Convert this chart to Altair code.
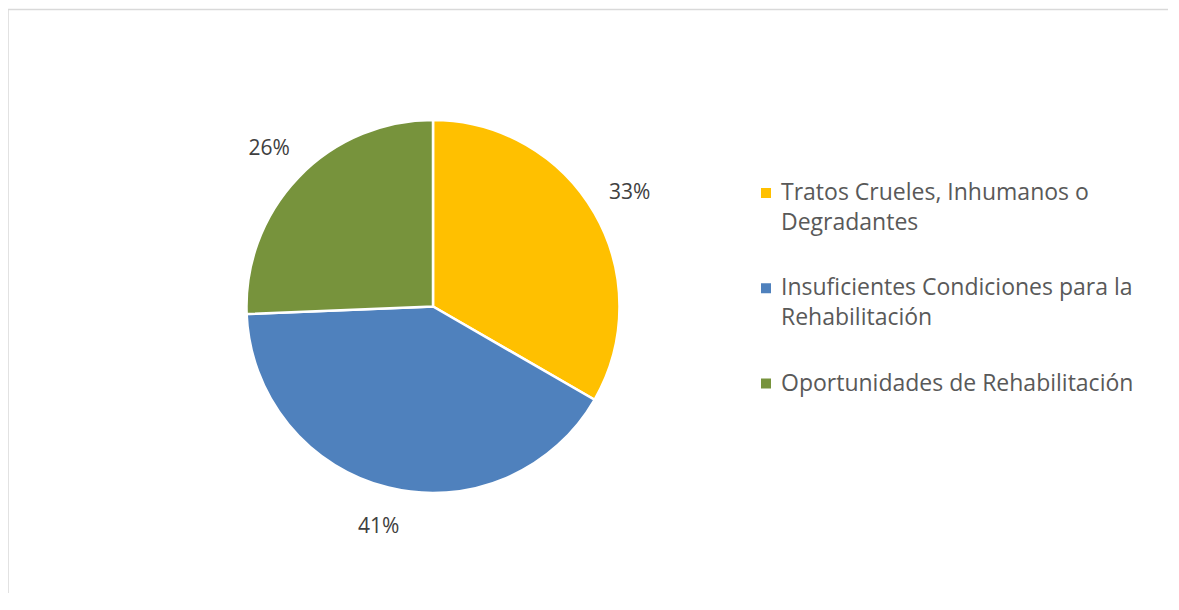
import altair as alt
import pandas as pd

categories = [
    "Tratos Crueles, Inhumanos o Degradantes",
    "Insuficientes Condiciones para la Rehabilitación",
    "Oportunidades de Rehabilitación",
]
legend_labels = [
    "Tratos Crueles, Inhumanos o\nDegradantes",
    "Insuficientes Condiciones para la\nRehabilitación",
    "Oportunidades de Rehabilitación",
]
counts = [13, 16, 10]
slice_order = [0, 1, 2]
colors = ["#FFC000", "#4F81BD", "#77933C"]

df = pd.DataFrame({"cat": categories, "legend": legend_labels, "n": counts, "ord": slice_order})
frame_df = pd.DataFrame({"k": [0]})

FONT = "Open Sans"
CX, CY = 425, 298.5

base = alt.Chart(df)
color = alt.Color("cat:N", scale=alt.Scale(domain=categories, range=colors), legend=None)
theta = alt.Theta("n:Q", stack=True)
order = alt.Order("ord:Q")

arcs = base.mark_arc(outerRadius=186.5, stroke="white", strokeWidth=2.5).encode(
    theta=theta, color=color, order=order, x=alt.value(CX), y=alt.value(CY)
)

labels = (
    base.transform_joinaggregate(total="sum(n)")
    .transform_calculate(pct="format(datum.n / datum.total, '.0%')")
    .mark_text(radius=227, fontSize=21, font=FONT, color="#404040")
    .encode(theta=theta, order=order, text="pct:N", x=alt.value(CX), y=alt.value(CY))
)

ypos = alt.Y(
    "cat:N",
    sort=categories,
    scale=alt.Scale(domain=categories, type="point", range=[185, 375.5], padding=0),
    axis=None,
)

leg_sym = base.mark_point(shape="square", filled=True, size=100, opacity=1).encode(
    x=alt.value(758), y=ypos, color=color
)
leg_txt = base.mark_text(
    align="left", baseline="top", dy=-11, lineBreak="\n", lineHeight=30,
    fontSize=23, font=FONT, color="#595959"
).encode(x=alt.value(773), y=ypos, text="legend:N")

top_line = alt.Chart(frame_df).mark_rule(color="#d9d9d9", strokeWidth=1.5).encode(
    x=alt.value(0), x2=alt.value(1160), y=alt.value(1.5)
)
left_line = alt.Chart(frame_df).mark_rule(color="#d9d9d9", strokeWidth=1.5).encode(
    x=alt.value(0), y=alt.value(1.5), y2=alt.value(585)
)

chart = (
    alt.layer(top_line, left_line, arcs, labels, leg_sym, leg_txt)
    .properties(width=1160, height=585, padding=0, autosize=alt.AutoSizeParams(type="none"))
    .configure_view(stroke=None)
)

chart.save("out.html", embed_options={"renderer": "svg", "actions": False})
